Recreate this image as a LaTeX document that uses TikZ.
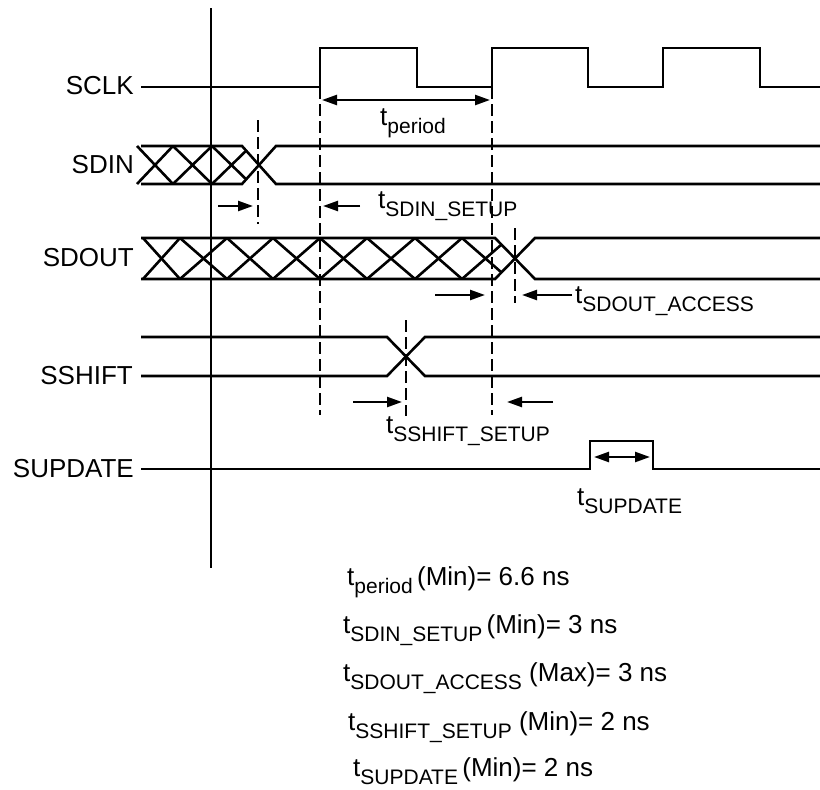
\documentclass[tikz,border=0pt]{standalone}
\usepackage{fontspec}
\setmainfont{Liberation Sans}
\usetikzlibrary{arrows.meta}

\newcommand{\tsub}[1]{t\raisebox{-8pt}{\fontsize{21}{24}\selectfont #1}}

\tikzset{
  senal/.style={line width=2.6pt},
  guia/.style={line width=2pt, dash pattern=on 12pt off 5pt},
  cota/.style={line width=2.4pt, -{Triangle[length=15pt,width=10pt]}},
  cotados/.style={line width=2.4pt, {Triangle[length=15pt,width=10pt]}-{Triangle[length=15pt,width=10pt]}},
  etiq/.style={anchor=east, inner sep=0pt, font=\fontsize{26}{30}\selectfont},
  texto/.style={anchor=base west, inner sep=0pt, font=\fontsize{26}{30}\selectfont}
}

\begin{document}
\begin{tikzpicture}[x=1pt,y=-1pt]
    \useasboundingbox (0,0) rectangle (820,790);

    % Eje vertical
    \draw[line width=2.4pt] (211,8) -- (211,568);

    % Nombres de las senales
    \node[etiq] (sclk) at (134,86) {SCLK};
    \node[etiq] (sdin) at (134,165) {SDIN};
    \node[etiq] (sdout) at (134,258) {SDOUT};
    \node[etiq] (sshift) at (133,376) {SSHIFT};
    \node[etiq] (supdate) at (134,469) {SUPDATE};

    % Reloj
    \draw[senal] (141,87) -- (320,87) -- (320,48) -- (417,48) -- (417,87) -- (492,87)
        -- (492,48) -- (588,48) -- (588,87) -- (663,87) -- (663,48) -- (760,48)
        -- (760,87) -- (822,87);

    % SDIN
    \draw[senal] (141,146) -- (242,146) -- (276,184) -- (822,184);
    \draw[senal] (141,184) -- (242,184) -- (276,146) -- (822,146);
    \begin{scope}
        \clip (130,140) -- (242,140) -- (242,146) -- (259,165) -- (242,184) -- (242,190) -- (130,190) -- cycle;
        \foreach \a/\b in {137/173, 173/212, 212/251} {
            \draw[senal] (\a,146) -- (\b,184);
            \draw[senal] (\a,184) -- (\b,146);
        }
    \end{scope}

    % SDOUT
    \draw[senal] (141,238) -- (495,238) -- (535,279) -- (822,279);
    \draw[senal] (141,279) -- (495,279) -- (535,238) -- (822,238);
    \begin{scope}
        \clip (130,232) -- (495,232) -- (495,238) -- (515,258.5) -- (495,279) -- (495,285) -- (130,285) -- cycle;
        \foreach \a/\b in {143/180, 180/227, 227/273, 273/320, 320/367, 367/415, 415/462, 462/509} {
            \draw[senal] (\a,238) -- (\b,279);
            \draw[senal] (\a,279) -- (\b,238);
        }
    \end{scope}

    % SSHIFT
    \draw[senal] (141,337) -- (387,337) -- (425,376) -- (822,376);
    \draw[senal] (141,376) -- (387,376) -- (425,337) -- (822,337);

    % SUPDATE
    \draw[senal] (141,469) -- (590,469) -- (590,441) -- (653,441) -- (653,469) -- (822,469);

    % Lineas de referencia
    \draw[guia] (258,120) -- (258,224);
    \draw[guia] (320,87) -- (320,415);
    \draw[guia] (492,87) -- (492,415);
    \draw[guia] (515,228) -- (515,303);
    \draw[guia] (406,320) -- (406,416);

    % Cotas de tiempo
    \draw[cotados] (322,100) -- (490,100);
    \node[texto] (tper) at (380,125) {\tsub{period}};

    \draw[cota] (218,206) -- (253,206);
    \draw[cota] (360,206) -- (323,206);
    \node[texto] (tsdin) at (378,208) {\tsub{SDIN\_SETUP}};

    \draw[cota] (435,295) -- (485,295);
    \draw[cota] (572,295) -- (522,295);
    \node[texto] (tsdout) at (575,303) {\tsub{SDOUT\_ACCESS}};

    \draw[cota] (353,402) -- (402,402);
    \draw[cota] (553,402) -- (507,402);
    \node[texto] (tsshift) at (386,433) {\tsub{SSHIFT\_SETUP}};

    \draw[cotados] (594,457) -- (650,457);
    \node[texto] (tsup) at (577,505) {\tsub{SUPDATE}};

    % Valores
    \node[texto] (vper) at (347,585) {\tsub{period}\,(Min)= 6.6 ns};
    \node[texto] (vsdin) at (343,633) {\tsub{SDIN\_SETUP}\,(Min)= 3 ns};
    \node[texto] (vsdout) at (343,681) {\tsub{SDOUT\_ACCESS}\ (Max)= 3 ns};
    \node[texto] (vsshift) at (348,730) {\tsub{SSHIFT\_SETUP}\ (Min)= 2 ns};
    \node[texto] (vsup) at (353,776) {\tsub{SUPDATE}\,(Min)= 2 ns};
\end{tikzpicture}
\end{document}
